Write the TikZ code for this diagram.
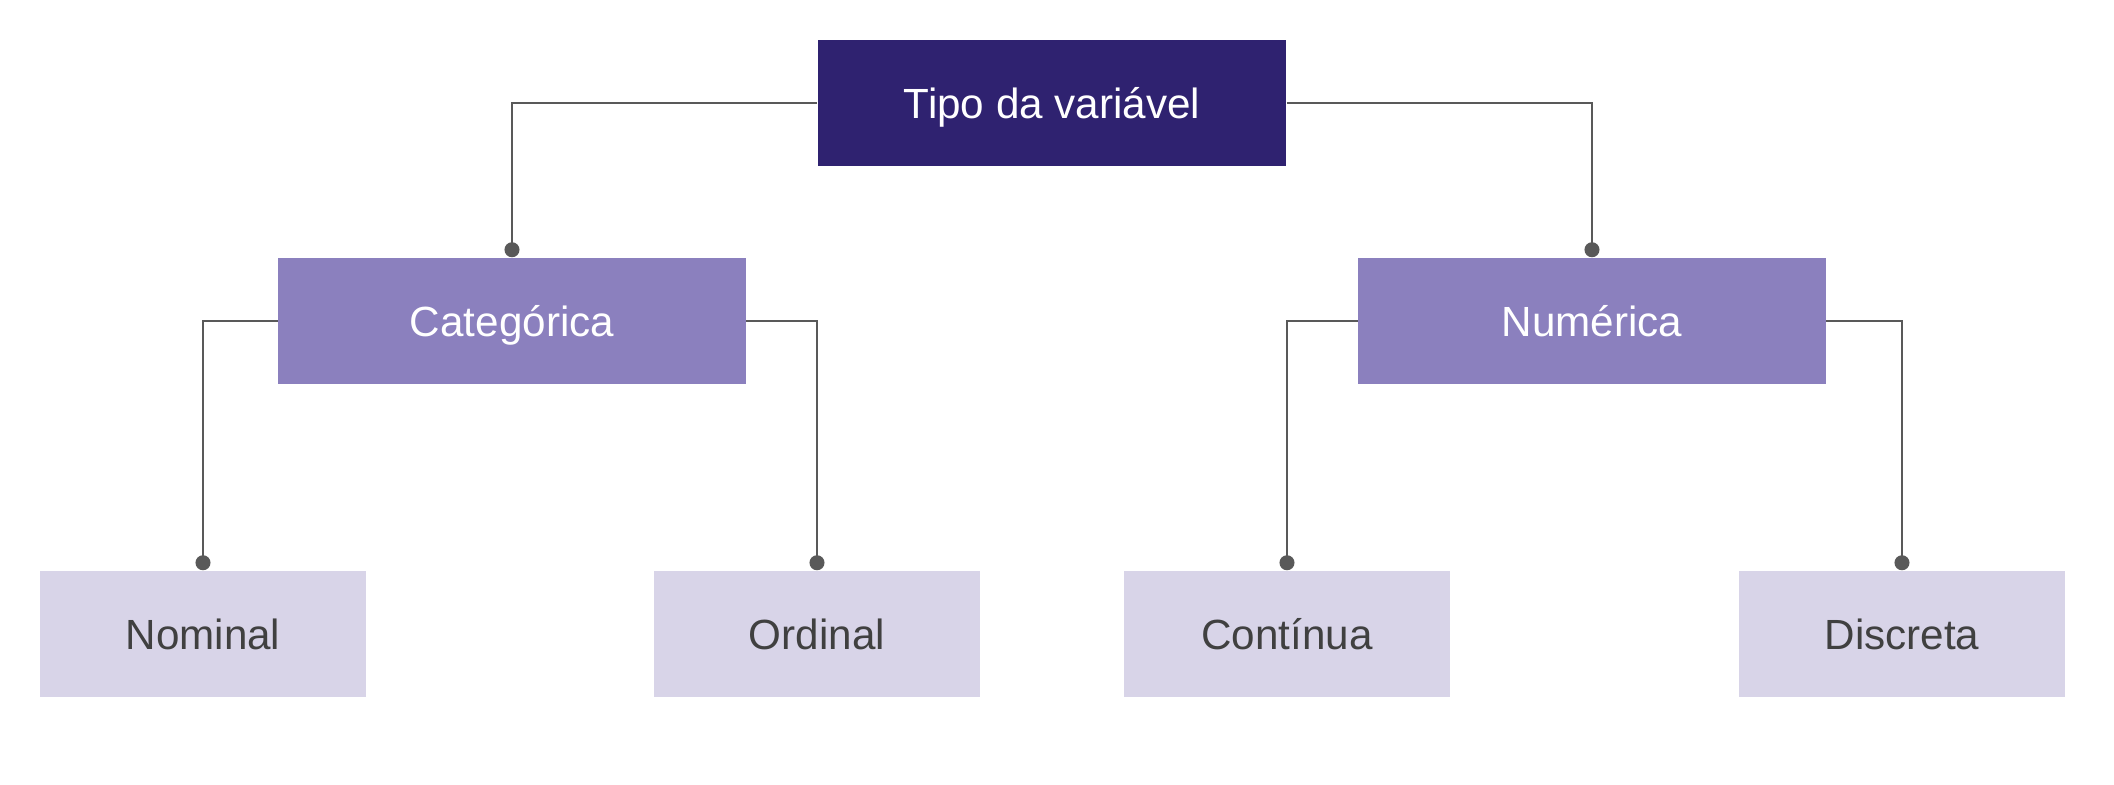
\documentclass[tikz,border=0pt]{standalone}
\usepackage{fontspec}
\setmainfont{Liberation Sans}
\usetikzlibrary{arrows.meta}
\definecolor{darkviolet}{RGB}{47,34,112}
\definecolor{midviolet}{RGB}{139,128,190}
\definecolor{lightviolet}{RGB}{216,212,232}
\definecolor{linegray}{RGB}{89,89,89}
\definecolor{textgray}{RGB}{64,64,64}
\begin{document}
\begin{tikzpicture}[x=0.01cm,y=-0.01cm,font=\fontsize{12}{14}\selectfont,
    box/.style = {rectangle, inner sep=0pt, minimum height=1.26cm, text height=9pt, text depth=0pt},
    root/.style = {box, fill=darkviolet, text=white, minimum width=4.68cm},
    branch/.style = {box, fill=midviolet, text=white, minimum width=4.67cm},
    leaf/.style = {box, fill=lightviolet, text=textgray, minimum width=3.25cm},
    link/.style = {draw=linegray, line width=0.02cm, -{Circle[length=0.15cm]}}]
        \useasboundingbox (0,0) rectangle (2114,784);
        \node[root] (1) at (1052, 103) {Tipo da variável};
        \node[branch] (2) at (512, 321) {Categórica};
        \node[branch] (3) at (1592, 321) {Numérica};
        \node[leaf] (4) at (203, 634) {Nominal};
        \node[leaf] (5) at (817, 634) {Ordinal};
        \node[leaf] (6) at (1287, 634) {Contínua};
        \node[leaf] (7) at (1902, 634) {Discreta};
        \draw[link] (1.west) -| (2.north);
        \draw[link] (1.east) -| (3.north);
        \draw[link] (2.west) -| (4.north);
        \draw[link] (2.east) -| (5.north);
        \draw[link] (3.west) -| (6.north);
        \draw[link] (3.east) -| (7.north);
    \end{tikzpicture}
\end{document}
